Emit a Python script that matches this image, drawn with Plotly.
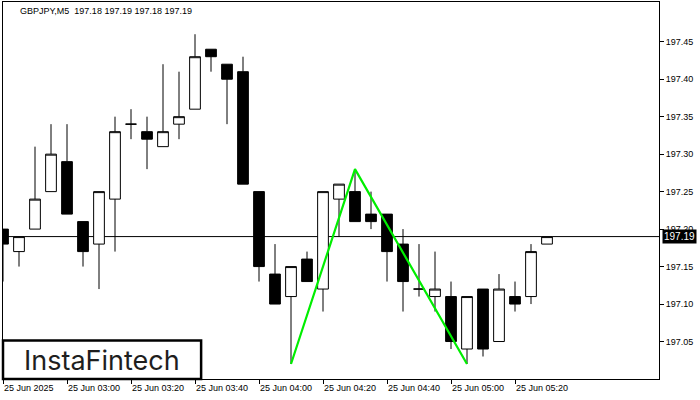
import pandas as pd
import plotly.graph_objects as go

# ---- data ----
times = [t.strftime("%Y-%m-%d %H:%M") for t in pd.date_range("2025-06-25 02:40", periods=35, freq="5min")]
opens = [197.20, 197.17, 197.20, 197.25, 197.29, 197.21, 197.18, 197.24, 197.34, 197.33,
         197.31, 197.34, 197.36, 197.44, 197.42, 197.41, 197.25, 197.14, 197.11, 197.16,
         197.12, 197.24, 197.25, 197.22, 197.22, 197.18, 197.12, 197.11, 197.11, 197.04,
         197.12, 197.05, 197.11, 197.11, 197.18]
highs = [197.20, 197.19, 197.31, 197.34, 197.34, 197.21, 197.25, 197.35, 197.36, 197.35,
         197.42, 197.41, 197.46, 197.44, 197.42, 197.43, 197.25, 197.18, 197.15, 197.17,
         197.25, 197.26, 197.28, 197.25, 197.22, 197.20, 197.18, 197.17, 197.13, 197.11,
         197.12, 197.14, 197.13, 197.18, 197.19]
lows = [197.13, 197.15, 197.20, 197.25, 197.22, 197.15, 197.12, 197.17, 197.32, 197.28,
        197.31, 197.32, 197.36, 197.41, 197.34, 197.26, 197.13, 197.10, 197.02, 197.13,
        197.09, 197.19, 197.21, 197.20, 197.13, 197.09, 197.11, 197.09, 197.04, 197.02,
        197.03, 197.05, 197.09, 197.10, 197.18]
closes = [197.18, 197.19, 197.24, 197.30, 197.22, 197.17, 197.25, 197.33, 197.34, 197.32,
          197.33, 197.35, 197.43, 197.43, 197.40, 197.26, 197.15, 197.10, 197.15, 197.13,
          197.25, 197.26, 197.21, 197.21, 197.17, 197.13, 197.12, 197.12, 197.05, 197.11,
          197.04, 197.12, 197.10, 197.17, 197.19]

pattern_times = ["2025-06-25 04:10", "2025-06-25 04:30", "2025-06-25 05:05"]
pattern_prices = [197.02, 197.28, 197.02]

current_price = 197.19
title_text = "GBPJPY,M5  197.18 197.19 197.18 197.19"

x_tick_vals = ["2025-06-25 02:40", "2025-06-25 03:00", "2025-06-25 03:20", "2025-06-25 03:40",
               "2025-06-25 04:00", "2025-06-25 04:20", "2025-06-25 04:40", "2025-06-25 05:00",
               "2025-06-25 05:20"]
x_tick_text = ["25 Jun 2025", "25 Jun 03:00", "25 Jun 03:20", "25 Jun 03:40", "25 Jun 04:00",
               "25 Jun 04:20", "25 Jun 04:40", "25 Jun 05:00", "25 Jun 05:20"]
y_tick_vals = [197.05, 197.10, 197.15, 197.20, 197.25, 197.30, 197.35, 197.40, 197.45]

FONT = "Liberation Sans"

fig = go.Figure()
fig.add_trace(go.Candlestick(
    x=times, open=opens, high=highs, low=lows, close=closes,
    increasing=dict(line=dict(color="black", width=1), fillcolor="white"),
    decreasing=dict(line=dict(color="black", width=1), fillcolor="black"),
    whiskerwidth=0, showlegend=False,
))
fig.add_trace(go.Scatter(
    x=pattern_times, y=pattern_prices, mode="lines",
    line=dict(color="#00ee00", width=2.2), showlegend=False,
))

fig.add_shape(type="line", xref="paper", x0=0, x1=1, yref="y",
              y0=current_price, y1=current_price, line=dict(color="black", width=1), layer="below")

# logo box
fig.add_shape(type="rect", xref="paper", yref="paper", x0=0, x1=0.302, y0=0, y1=0.102,
              line=dict(color="black", width=2.5), fillcolor="white", layer="above")
fig.add_annotation(text="InstaFintech", xref="paper", yref="paper", x=0.151, y=0.05,
                   showarrow=False, xanchor="center", yanchor="middle",
                   font=dict(family="Inter", size=27, color="#1e1e1e"))

# title
fig.add_annotation(text=title_text, xref="paper", yref="paper", x=0.023, y=0.977,
                   showarrow=False, xanchor="left", yanchor="middle",
                   font=dict(family=FONT, size=9, color="black"))

# current price label
fig.add_annotation(text="197.19", xref="paper", yref="y", x=1.005, y=current_price,
                   showarrow=False, xanchor="left", yanchor="middle",
                   bgcolor="black", font=dict(family=FONT, size=10, color="white"),
                   borderpad=1)

fig.update_layout(
    width=700, height=400,
    margin=dict(l=3, r=41, t=2, b=21),
    paper_bgcolor="white", plot_bgcolor="white",
    boxgap=0.33, boxgroupgap=0,
    font=dict(family=FONT, size=9, color="black"),
    xaxis=dict(
        type="date", range=["2025-06-25 02:40", "2025-06-25 06:05"],
        rangeslider=dict(visible=False),
        tickvals=x_tick_vals, ticktext=x_tick_text,
        ticks="outside", ticklen=4, tickcolor="black",
        ticklabelposition="outside right",
        showgrid=False, zeroline=False,
        showline=True, linecolor="black", linewidth=1, mirror=True,
        tickfont=dict(family=FONT, size=9, color="black"),
    ),
    yaxis=dict(
        side="right", range=[197.0, 197.503],
        tickvals=y_tick_vals, tickformat=".2f",
        ticks="outside", ticklen=4, tickcolor="black",
        showgrid=False, zeroline=False,
        showline=True, linecolor="black", linewidth=1, mirror=True,
        tickfont=dict(family=FONT, size=9, color="black"),
    ),
)

fig.write_html("out.html", config={"displayModeBar": False},
               post_script="document.body.style.margin='0';document.body.style.overflow='hidden';")
